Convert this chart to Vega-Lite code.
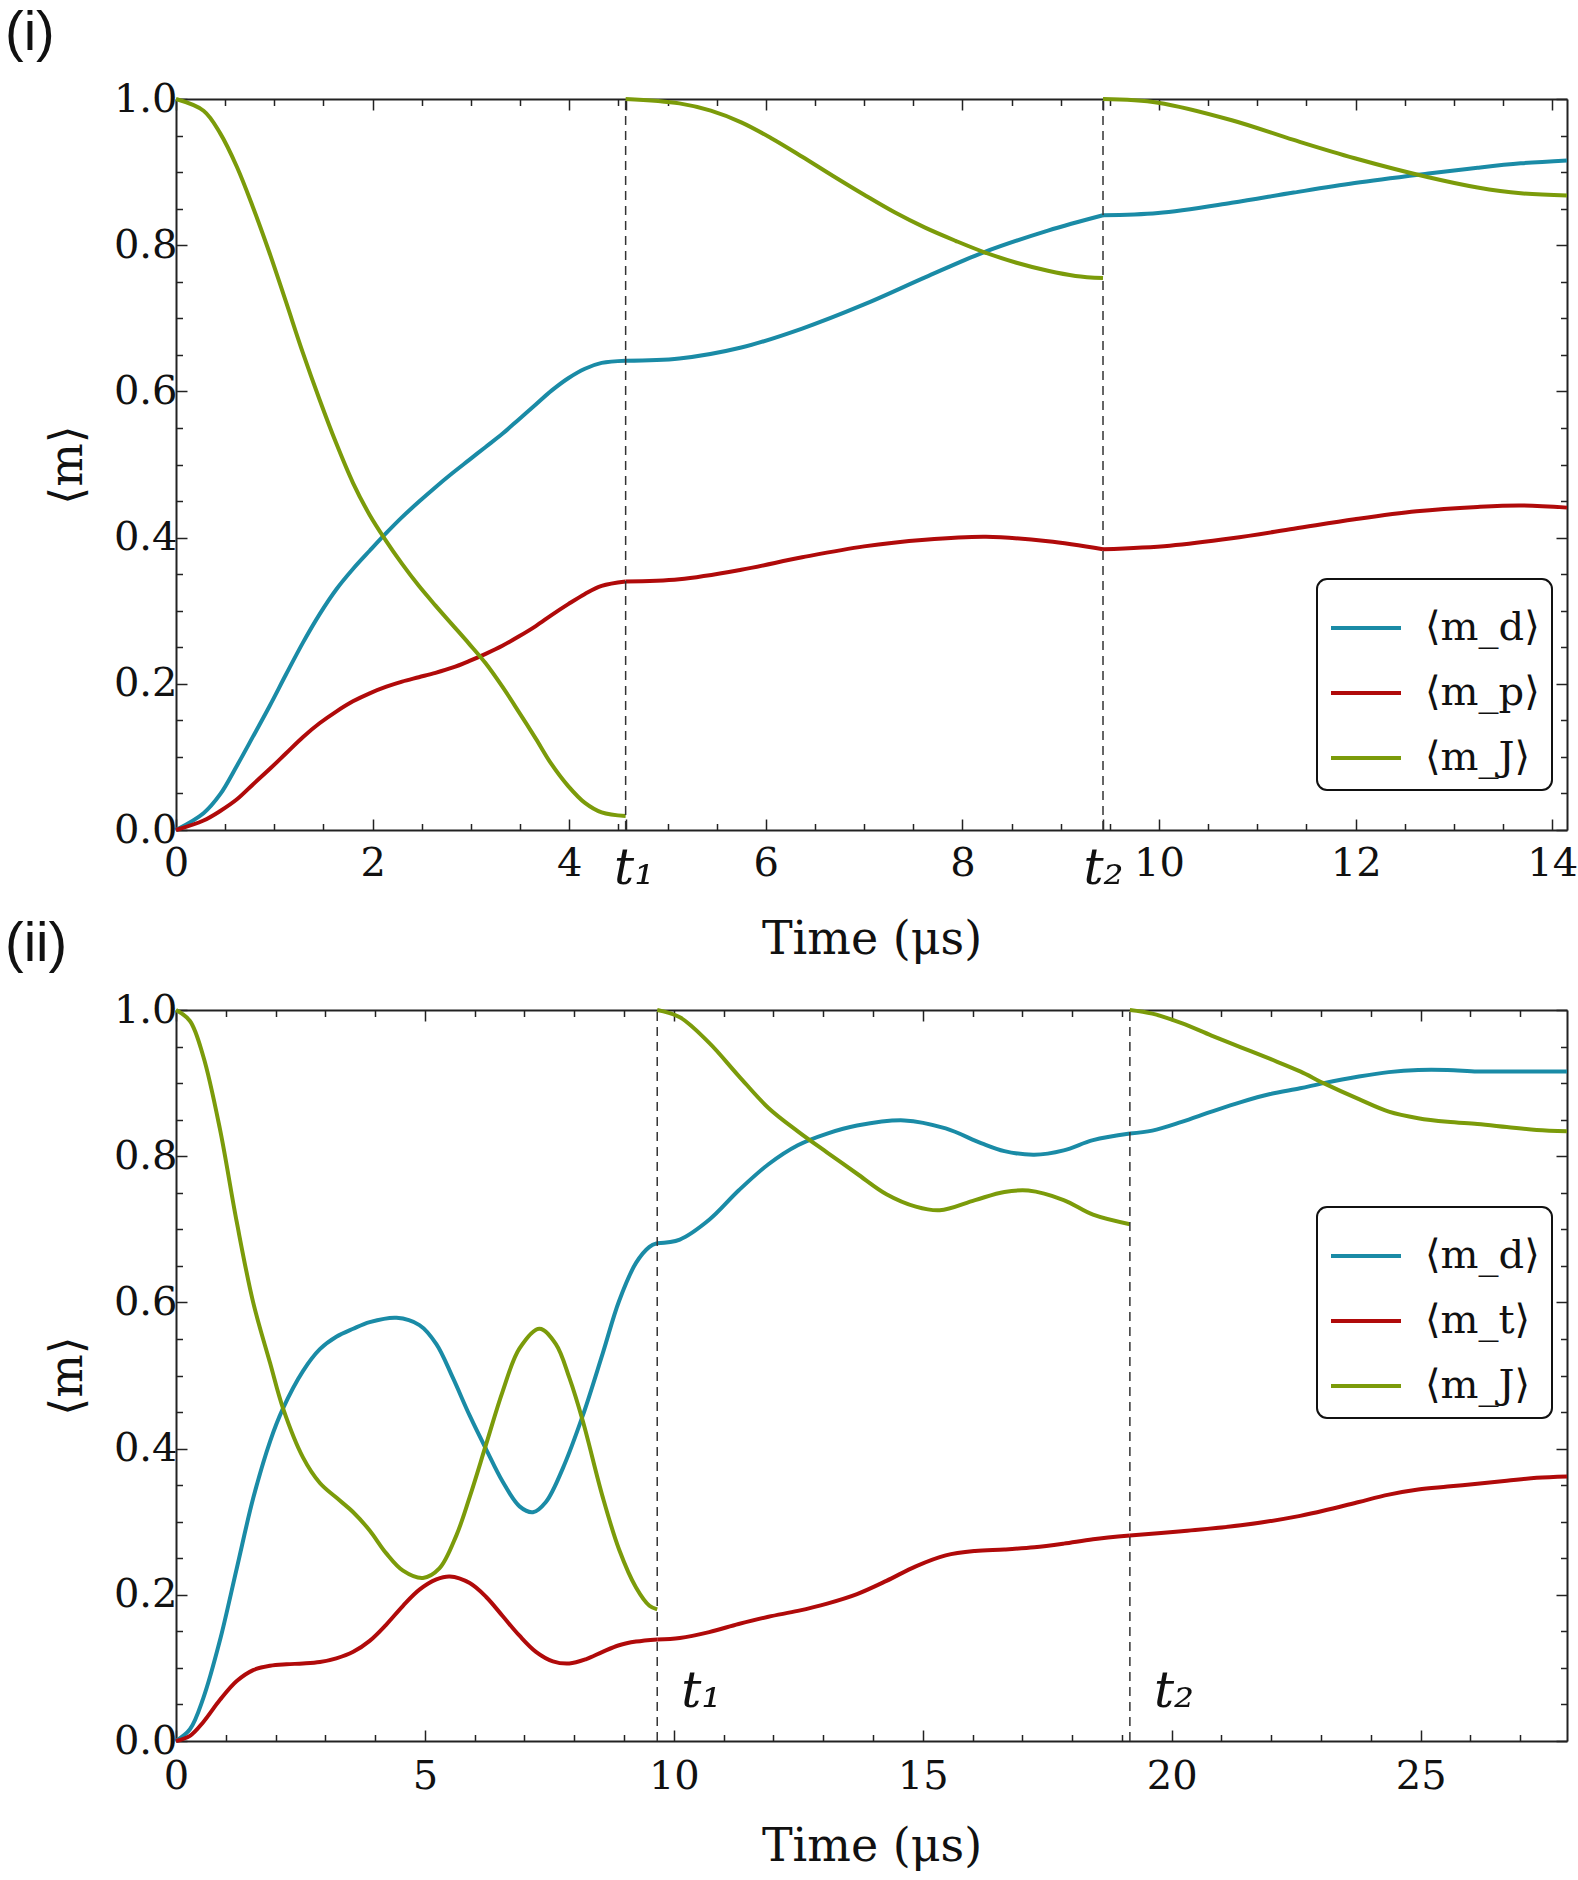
{
  "$schema": "https://vega.github.io/schema/vega-lite/v6.json",
  "padding": {"left": 5, "top": 5, "right": 0, "bottom": 12},
  "background": "white",
  "spacing": -46,
  "config": {
    "view": {"stroke": null},
    "font": "DejaVu Serif",
    "axis": {"grid": false, "domainColor": "#222", "domainWidth": 2, "tickColor": "#222", "tickWidth": 1.5,
      "labelFont": "DejaVu Serif", "labelFontSize": 40, "labelColor": "#111", "titleFont": "DejaVu Serif",
      "titleFontSize": 46, "titleFontWeight": "normal", "titleColor": "#111", "labelOverlap": false, "labelFlush": false, "labelBound": false},
    "title": {"font": "Liberation Sans", "fontSize": 56, "fontWeight": "normal", "anchor": "start", "frame": "group", "dx": -171, "offset": 17, "color": "#111"},
    "legend": {"title": null, "strokeColor": "#111", "strokeWidth": 2, "cornerRadius": 10, "fillColor": "white", "padding": 12,
      "symbolType": "stroke", "symbolSize": 4900, "symbolStrokeWidth": 4, "labelFont": "DejaVu Serif", "labelFontSize": 40, "labelColor": "#111", "labelOffset": 22, "rowPadding": 8}
  },
  "resolve": {"scale": {"color": "independent"}},
  "datasets": {
    "p1": [
      {"t":0,"m":0,"s":"⟨m_d⟩","g":1},{"t":0.28,"m":0.023,"s":"⟨m_d⟩","g":1},{"t":0.45,"m":0.049,"s":"⟨m_d⟩","g":1},{"t":0.62,"m":0.088,"s":"⟨m_d⟩","g":1},{"t":0.78,"m":0.127,"s":"⟨m_d⟩","g":1},{"t":0.95,"m":0.169,"s":"⟨m_d⟩","g":1},{"t":1.12,"m":0.213,"s":"⟨m_d⟩","g":1},{"t":1.29,"m":0.256,"s":"⟨m_d⟩","g":1},{"t":1.46,"m":0.295,"s":"⟨m_d⟩","g":1},{"t":1.63,"m":0.329,"s":"⟨m_d⟩","g":1},{"t":1.8,"m":0.357,"s":"⟨m_d⟩","g":1},{"t":1.97,"m":0.382,"s":"⟨m_d⟩","g":1},{"t":2.13,"m":0.405,"s":"⟨m_d⟩","g":1},{"t":2.3,"m":0.428,"s":"⟨m_d⟩","g":1},{"t":2.47,"m":0.449,"s":"⟨m_d⟩","g":1},{"t":2.64,"m":0.469,"s":"⟨m_d⟩","g":1},{"t":2.81,"m":0.488,"s":"⟨m_d⟩","g":1},{"t":2.98,"m":0.506,"s":"⟨m_d⟩","g":1},{"t":3.15,"m":0.524,"s":"⟨m_d⟩","g":1},{"t":3.32,"m":0.542,"s":"⟨m_d⟩","g":1},{"t":3.49,"m":0.562,"s":"⟨m_d⟩","g":1},{"t":3.66,"m":0.582,"s":"⟨m_d⟩","g":1},{"t":3.82,"m":0.601,"s":"⟨m_d⟩","g":1},{"t":3.99,"m":0.618,"s":"⟨m_d⟩","g":1},{"t":4.16,"m":0.631,"s":"⟨m_d⟩","g":1},{"t":4.33,"m":0.639,"s":"⟨m_d⟩","g":1},{"t":4.574,"m":0.642,"s":"⟨m_d⟩","g":1},
      {"t":4.574,"m":0.642,"s":"⟨m_d⟩","g":2},{"t":5.12,"m":0.645,"s":"⟨m_d⟩","g":2},{"t":5.75,"m":0.66,"s":"⟨m_d⟩","g":2},{"t":6.37,"m":0.686,"s":"⟨m_d⟩","g":2},{"t":7.0,"m":0.719,"s":"⟨m_d⟩","g":2},{"t":7.62,"m":0.756,"s":"⟨m_d⟩","g":2},{"t":8.21,"m":0.79,"s":"⟨m_d⟩","g":2},{"t":8.87,"m":0.82,"s":"⟨m_d⟩","g":2},{"t":9.43,"m":0.841,"s":"⟨m_d⟩","g":2},
      {"t":9.43,"m":0.841,"s":"⟨m_d⟩","g":3},{"t":9.99,"m":0.844,"s":"⟨m_d⟩","g":3},{"t":10.74,"m":0.858,"s":"⟨m_d⟩","g":3},{"t":11.37,"m":0.872,"s":"⟨m_d⟩","g":3},{"t":11.99,"m":0.885,"s":"⟨m_d⟩","g":3},{"t":12.74,"m":0.898,"s":"⟨m_d⟩","g":3},{"t":13.24,"m":0.906,"s":"⟨m_d⟩","g":3},{"t":13.68,"m":0.912,"s":"⟨m_d⟩","g":3},{"t":14.15,"m":0.916,"s":"⟨m_d⟩","g":3},
      {"t":0,"m":0,"s":"⟨m_p⟩","g":1},{"t":0.28,"m":0.013,"s":"⟨m_p⟩","g":1},{"t":0.45,"m":0.026,"s":"⟨m_p⟩","g":1},{"t":0.62,"m":0.042,"s":"⟨m_p⟩","g":1},{"t":0.78,"m":0.062,"s":"⟨m_p⟩","g":1},{"t":0.95,"m":0.083,"s":"⟨m_p⟩","g":1},{"t":1.12,"m":0.105,"s":"⟨m_p⟩","g":1},{"t":1.29,"m":0.127,"s":"⟨m_p⟩","g":1},{"t":1.46,"m":0.146,"s":"⟨m_p⟩","g":1},{"t":1.63,"m":0.162,"s":"⟨m_p⟩","g":1},{"t":1.8,"m":0.176,"s":"⟨m_p⟩","g":1},{"t":1.97,"m":0.187,"s":"⟨m_p⟩","g":1},{"t":2.14,"m":0.196,"s":"⟨m_p⟩","g":1},{"t":2.3,"m":0.203,"s":"⟨m_p⟩","g":1},{"t":2.47,"m":0.209,"s":"⟨m_p⟩","g":1},{"t":2.64,"m":0.215,"s":"⟨m_p⟩","g":1},{"t":2.81,"m":0.222,"s":"⟨m_p⟩","g":1},{"t":2.98,"m":0.231,"s":"⟨m_p⟩","g":1},{"t":3.15,"m":0.241,"s":"⟨m_p⟩","g":1},{"t":3.32,"m":0.252,"s":"⟨m_p⟩","g":1},{"t":3.49,"m":0.265,"s":"⟨m_p⟩","g":1},{"t":3.66,"m":0.279,"s":"⟨m_p⟩","g":1},{"t":3.82,"m":0.294,"s":"⟨m_p⟩","g":1},{"t":3.99,"m":0.309,"s":"⟨m_p⟩","g":1},{"t":4.16,"m":0.323,"s":"⟨m_p⟩","g":1},{"t":4.33,"m":0.334,"s":"⟨m_p⟩","g":1},{"t":4.574,"m":0.34,"s":"⟨m_p⟩","g":1},
      {"t":4.574,"m":0.34,"s":"⟨m_p⟩","g":2},{"t":5.12,"m":0.343,"s":"⟨m_p⟩","g":2},{"t":5.75,"m":0.356,"s":"⟨m_p⟩","g":2},{"t":6.37,"m":0.373,"s":"⟨m_p⟩","g":2},{"t":7.0,"m":0.388,"s":"⟨m_p⟩","g":2},{"t":7.62,"m":0.397,"s":"⟨m_p⟩","g":2},{"t":8.24,"m":0.401,"s":"⟨m_p⟩","g":2},{"t":8.87,"m":0.395,"s":"⟨m_p⟩","g":2},{"t":9.43,"m":0.384,"s":"⟨m_p⟩","g":2},
      {"t":9.43,"m":0.384,"s":"⟨m_p⟩","g":3},{"t":10.11,"m":0.389,"s":"⟨m_p⟩","g":3},{"t":10.74,"m":0.399,"s":"⟨m_p⟩","g":3},{"t":11.37,"m":0.412,"s":"⟨m_p⟩","g":3},{"t":11.99,"m":0.425,"s":"⟨m_p⟩","g":3},{"t":12.62,"m":0.436,"s":"⟨m_p⟩","g":3},{"t":13.24,"m":0.442,"s":"⟨m_p⟩","g":3},{"t":13.68,"m":0.444,"s":"⟨m_p⟩","g":3},{"t":14.15,"m":0.441,"s":"⟨m_p⟩","g":3},
      {"t":0,"m":1,"s":"⟨m_J⟩","g":1},{"t":0.28,"m":0.984,"s":"⟨m_J⟩","g":1},{"t":0.45,"m":0.953,"s":"⟨m_J⟩","g":1},{"t":0.62,"m":0.907,"s":"⟨m_J⟩","g":1},{"t":0.78,"m":0.853,"s":"⟨m_J⟩","g":1},{"t":0.95,"m":0.79,"s":"⟨m_J⟩","g":1},{"t":1.12,"m":0.722,"s":"⟨m_J⟩","g":1},{"t":1.29,"m":0.653,"s":"⟨m_J⟩","g":1},{"t":1.46,"m":0.589,"s":"⟨m_J⟩","g":1},{"t":1.63,"m":0.529,"s":"⟨m_J⟩","g":1},{"t":1.8,"m":0.475,"s":"⟨m_J⟩","g":1},{"t":1.97,"m":0.431,"s":"⟨m_J⟩","g":1},{"t":2.13,"m":0.397,"s":"⟨m_J⟩","g":1},{"t":2.3,"m":0.364,"s":"⟨m_J⟩","g":1},{"t":2.47,"m":0.334,"s":"⟨m_J⟩","g":1},{"t":2.64,"m":0.307,"s":"⟨m_J⟩","g":1},{"t":2.81,"m":0.281,"s":"⟨m_J⟩","g":1},{"t":2.98,"m":0.255,"s":"⟨m_J⟩","g":1},{"t":3.15,"m":0.228,"s":"⟨m_J⟩","g":1},{"t":3.32,"m":0.196,"s":"⟨m_J⟩","g":1},{"t":3.49,"m":0.161,"s":"⟨m_J⟩","g":1},{"t":3.66,"m":0.125,"s":"⟨m_J⟩","g":1},{"t":3.82,"m":0.09,"s":"⟨m_J⟩","g":1},{"t":3.99,"m":0.06,"s":"⟨m_J⟩","g":1},{"t":4.16,"m":0.037,"s":"⟨m_J⟩","g":1},{"t":4.33,"m":0.024,"s":"⟨m_J⟩","g":1},{"t":4.574,"m":0.019,"s":"⟨m_J⟩","g":1},
      {"t":4.574,"m":1,"s":"⟨m_J⟩","g":2},{"t":5.12,"m":0.994,"s":"⟨m_J⟩","g":2},{"t":5.44,"m":0.984,"s":"⟨m_J⟩","g":2},{"t":5.75,"m":0.968,"s":"⟨m_J⟩","g":2},{"t":6.06,"m":0.946,"s":"⟨m_J⟩","g":2},{"t":6.37,"m":0.921,"s":"⟨m_J⟩","g":2},{"t":6.68,"m":0.895,"s":"⟨m_J⟩","g":2},{"t":7.0,"m":0.869,"s":"⟨m_J⟩","g":2},{"t":7.31,"m":0.845,"s":"⟨m_J⟩","g":2},{"t":7.62,"m":0.824,"s":"⟨m_J⟩","g":2},{"t":7.93,"m":0.806,"s":"⟨m_J⟩","g":2},{"t":8.21,"m":0.791,"s":"⟨m_J⟩","g":2},{"t":8.55,"m":0.776,"s":"⟨m_J⟩","g":2},{"t":8.87,"m":0.765,"s":"⟨m_J⟩","g":2},{"t":9.15,"m":0.758,"s":"⟨m_J⟩","g":2},{"t":9.43,"m":0.755,"s":"⟨m_J⟩","g":2},
      {"t":9.43,"m":1,"s":"⟨m_J⟩","g":3},{"t":9.99,"m":0.995,"s":"⟨m_J⟩","g":3},{"t":10.74,"m":0.971,"s":"⟨m_J⟩","g":3},{"t":11.37,"m":0.944,"s":"⟨m_J⟩","g":3},{"t":11.99,"m":0.919,"s":"⟨m_J⟩","g":3},{"t":12.74,"m":0.893,"s":"⟨m_J⟩","g":3},{"t":13.24,"m":0.879,"s":"⟨m_J⟩","g":3},{"t":13.68,"m":0.871,"s":"⟨m_J⟩","g":3},{"t":14.15,"m":0.868,"s":"⟨m_J⟩","g":3}
    ],
    "p1t": [{"t": 4.574}, {"t": 9.43}],
    "p2": [
      {"t":0,"m":0,"s":"⟨m_d⟩","g":1},{"t":0.28,"m":0.016,"s":"⟨m_d⟩","g":1},{"t":0.55,"m":0.059,"s":"⟨m_d⟩","g":1},{"t":0.88,"m":0.137,"s":"⟨m_d⟩","g":1},{"t":1.22,"m":0.236,"s":"⟨m_d⟩","g":1},{"t":1.55,"m":0.332,"s":"⟨m_d⟩","g":1},{"t":1.89,"m":0.41,"s":"⟨m_d⟩","g":1},{"t":2.15,"m":0.455,"s":"⟨m_d⟩","g":1},{"t":2.55,"m":0.506,"s":"⟨m_d⟩","g":1},{"t":2.89,"m":0.536,"s":"⟨m_d⟩","g":1},{"t":3.22,"m":0.553,"s":"⟨m_d⟩","g":1},{"t":3.56,"m":0.564,"s":"⟨m_d⟩","g":1},{"t":3.89,"m":0.573,"s":"⟨m_d⟩","g":1},{"t":4.43,"m":0.579,"s":"⟨m_d⟩","g":1},{"t":4.89,"m":0.569,"s":"⟨m_d⟩","g":1},{"t":5.23,"m":0.543,"s":"⟨m_d⟩","g":1},{"t":5.56,"m":0.497,"s":"⟨m_d⟩","g":1},{"t":5.9,"m":0.445,"s":"⟨m_d⟩","g":1},{"t":6.23,"m":0.399,"s":"⟨m_d⟩","g":1},{"t":6.56,"m":0.355,"s":"⟨m_d⟩","g":1},{"t":6.9,"m":0.321,"s":"⟨m_d⟩","g":1},{"t":7.17,"m":0.313,"s":"⟨m_d⟩","g":1},{"t":7.43,"m":0.327,"s":"⟨m_d⟩","g":1},{"t":7.77,"m":0.373,"s":"⟨m_d⟩","g":1},{"t":8.17,"m":0.445,"s":"⟨m_d⟩","g":1},{"t":8.57,"m":0.53,"s":"⟨m_d⟩","g":1},{"t":8.9,"m":0.602,"s":"⟨m_d⟩","g":1},{"t":9.24,"m":0.654,"s":"⟨m_d⟩","g":1},{"t":9.51,"m":0.676,"s":"⟨m_d⟩","g":1},{"t":9.666,"m":0.681,"s":"⟨m_d⟩","g":1},
      {"t":9.666,"m":0.681,"s":"⟨m_d⟩","g":2},{"t":10.12,"m":0.686,"s":"⟨m_d⟩","g":2},{"t":10.71,"m":0.713,"s":"⟨m_d⟩","g":2},{"t":11.3,"m":0.753,"s":"⟨m_d⟩","g":2},{"t":11.9,"m":0.789,"s":"⟨m_d⟩","g":2},{"t":12.49,"m":0.815,"s":"⟨m_d⟩","g":2},{"t":13.08,"m":0.831,"s":"⟨m_d⟩","g":2},{"t":13.68,"m":0.842,"s":"⟨m_d⟩","g":2},{"t":14.63,"m":0.849,"s":"⟨m_d⟩","g":2},{"t":15.46,"m":0.838,"s":"⟨m_d⟩","g":2},{"t":16.17,"m":0.818,"s":"⟨m_d⟩","g":2},{"t":16.64,"m":0.807,"s":"⟨m_d⟩","g":2},{"t":17.24,"m":0.802,"s":"⟨m_d⟩","g":2},{"t":17.83,"m":0.808,"s":"⟨m_d⟩","g":2},{"t":18.42,"m":0.822,"s":"⟨m_d⟩","g":2},{"t":19.16,"m":0.831,"s":"⟨m_d⟩","g":2},
      {"t":19.16,"m":0.831,"s":"⟨m_d⟩","g":3},{"t":19.61,"m":0.835,"s":"⟨m_d⟩","g":3},{"t":20.2,"m":0.847,"s":"⟨m_d⟩","g":3},{"t":20.8,"m":0.861,"s":"⟨m_d⟩","g":3},{"t":21.39,"m":0.874,"s":"⟨m_d⟩","g":3},{"t":21.98,"m":0.885,"s":"⟨m_d⟩","g":3},{"t":22.58,"m":0.893,"s":"⟨m_d⟩","g":3},{"t":23.05,"m":0.9,"s":"⟨m_d⟩","g":3},{"t":23.76,"m":0.909,"s":"⟨m_d⟩","g":3},{"t":24.36,"m":0.915,"s":"⟨m_d⟩","g":3},{"t":24.95,"m":0.918,"s":"⟨m_d⟩","g":3},{"t":25.54,"m":0.918,"s":"⟨m_d⟩","g":3},{"t":26.14,"m":0.916,"s":"⟨m_d⟩","g":3},{"t":26.73,"m":0.916,"s":"⟨m_d⟩","g":3},{"t":27.33,"m":0.916,"s":"⟨m_d⟩","g":3},{"t":27.94,"m":0.916,"s":"⟨m_d⟩","g":3},
      {"t":0,"m":0,"s":"⟨m_t⟩","g":1},{"t":0.28,"m":0.007,"s":"⟨m_t⟩","g":1},{"t":0.55,"m":0.026,"s":"⟨m_t⟩","g":1},{"t":0.88,"m":0.056,"s":"⟨m_t⟩","g":1},{"t":1.22,"m":0.082,"s":"⟨m_t⟩","g":1},{"t":1.55,"m":0.097,"s":"⟨m_t⟩","g":1},{"t":1.89,"m":0.103,"s":"⟨m_t⟩","g":1},{"t":2.22,"m":0.105,"s":"⟨m_t⟩","g":1},{"t":2.55,"m":0.106,"s":"⟨m_t⟩","g":1},{"t":2.89,"m":0.108,"s":"⟨m_t⟩","g":1},{"t":3.22,"m":0.113,"s":"⟨m_t⟩","g":1},{"t":3.56,"m":0.122,"s":"⟨m_t⟩","g":1},{"t":3.89,"m":0.137,"s":"⟨m_t⟩","g":1},{"t":4.22,"m":0.159,"s":"⟨m_t⟩","g":1},{"t":4.56,"m":0.185,"s":"⟨m_t⟩","g":1},{"t":4.89,"m":0.207,"s":"⟨m_t⟩","g":1},{"t":5.23,"m":0.221,"s":"⟨m_t⟩","g":1},{"t":5.5,"m":0.225,"s":"⟨m_t⟩","g":1},{"t":5.9,"m":0.216,"s":"⟨m_t⟩","g":1},{"t":6.23,"m":0.197,"s":"⟨m_t⟩","g":1},{"t":6.56,"m":0.171,"s":"⟨m_t⟩","g":1},{"t":6.9,"m":0.144,"s":"⟨m_t⟩","g":1},{"t":7.23,"m":0.122,"s":"⟨m_t⟩","g":1},{"t":7.57,"m":0.109,"s":"⟨m_t⟩","g":1},{"t":7.9,"m":0.106,"s":"⟨m_t⟩","g":1},{"t":8.24,"m":0.112,"s":"⟨m_t⟩","g":1},{"t":8.57,"m":0.122,"s":"⟨m_t⟩","g":1},{"t":8.9,"m":0.131,"s":"⟨m_t⟩","g":1},{"t":9.24,"m":0.136,"s":"⟨m_t⟩","g":1},{"t":9.666,"m":0.139,"s":"⟨m_t⟩","g":1},
      {"t":9.666,"m":0.139,"s":"⟨m_t⟩","g":2},{"t":10.12,"m":0.141,"s":"⟨m_t⟩","g":2},{"t":10.71,"m":0.149,"s":"⟨m_t⟩","g":2},{"t":11.3,"m":0.16,"s":"⟨m_t⟩","g":2},{"t":11.9,"m":0.17,"s":"⟨m_t⟩","g":2},{"t":12.49,"m":0.178,"s":"⟨m_t⟩","g":2},{"t":13.08,"m":0.188,"s":"⟨m_t⟩","g":2},{"t":13.68,"m":0.201,"s":"⟨m_t⟩","g":2},{"t":14.27,"m":0.219,"s":"⟨m_t⟩","g":2},{"t":14.86,"m":0.239,"s":"⟨m_t⟩","g":2},{"t":15.46,"m":0.254,"s":"⟨m_t⟩","g":2},{"t":16.05,"m":0.26,"s":"⟨m_t⟩","g":2},{"t":16.64,"m":0.262,"s":"⟨m_t⟩","g":2},{"t":17.24,"m":0.265,"s":"⟨m_t⟩","g":2},{"t":17.83,"m":0.27,"s":"⟨m_t⟩","g":2},{"t":18.42,"m":0.276,"s":"⟨m_t⟩","g":2},{"t":19.16,"m":0.281,"s":"⟨m_t⟩","g":2},
      {"t":19.16,"m":0.281,"s":"⟨m_t⟩","g":3},{"t":20.2,"m":0.287,"s":"⟨m_t⟩","g":3},{"t":21.39,"m":0.295,"s":"⟨m_t⟩","g":3},{"t":22.58,"m":0.308,"s":"⟨m_t⟩","g":3},{"t":23.17,"m":0.317,"s":"⟨m_t⟩","g":3},{"t":23.76,"m":0.327,"s":"⟨m_t⟩","g":3},{"t":24.36,"m":0.337,"s":"⟨m_t⟩","g":3},{"t":24.95,"m":0.344,"s":"⟨m_t⟩","g":3},{"t":25.54,"m":0.348,"s":"⟨m_t⟩","g":3},{"t":26.14,"m":0.352,"s":"⟨m_t⟩","g":3},{"t":26.73,"m":0.356,"s":"⟨m_t⟩","g":3},{"t":27.33,"m":0.36,"s":"⟨m_t⟩","g":3},{"t":27.94,"m":0.362,"s":"⟨m_t⟩","g":3},
      {"t":0,"m":1,"s":"⟨m_J⟩","g":1},{"t":0.28,"m":0.985,"s":"⟨m_J⟩","g":1},{"t":0.55,"m":0.936,"s":"⟨m_J⟩","g":1},{"t":0.88,"m":0.838,"s":"⟨m_J⟩","g":1},{"t":1.22,"m":0.71,"s":"⟨m_J⟩","g":1},{"t":1.55,"m":0.6,"s":"⟨m_J⟩","g":1},{"t":1.89,"m":0.517,"s":"⟨m_J⟩","g":1},{"t":2.15,"m":0.455,"s":"⟨m_J⟩","g":1},{"t":2.55,"m":0.388,"s":"⟨m_J⟩","g":1},{"t":2.89,"m":0.353,"s":"⟨m_J⟩","g":1},{"t":3.22,"m":0.333,"s":"⟨m_J⟩","g":1},{"t":3.56,"m":0.313,"s":"⟨m_J⟩","g":1},{"t":3.89,"m":0.288,"s":"⟨m_J⟩","g":1},{"t":4.22,"m":0.257,"s":"⟨m_J⟩","g":1},{"t":4.56,"m":0.233,"s":"⟨m_J⟩","g":1},{"t":4.96,"m":0.223,"s":"⟨m_J⟩","g":1},{"t":5.29,"m":0.236,"s":"⟨m_J⟩","g":1},{"t":5.63,"m":0.281,"s":"⟨m_J⟩","g":1},{"t":5.9,"m":0.334,"s":"⟨m_J⟩","g":1},{"t":6.23,"m":0.406,"s":"⟨m_J⟩","g":1},{"t":6.56,"m":0.478,"s":"⟨m_J⟩","g":1},{"t":6.9,"m":0.537,"s":"⟨m_J⟩","g":1},{"t":7.3,"m":0.564,"s":"⟨m_J⟩","g":1},{"t":7.63,"m":0.543,"s":"⟨m_J⟩","g":1},{"t":7.9,"m":0.497,"s":"⟨m_J⟩","g":1},{"t":8.17,"m":0.438,"s":"⟨m_J⟩","g":1},{"t":8.57,"m":0.334,"s":"⟨m_J⟩","g":1},{"t":8.9,"m":0.262,"s":"⟨m_J⟩","g":1},{"t":9.24,"m":0.21,"s":"⟨m_J⟩","g":1},{"t":9.51,"m":0.185,"s":"⟨m_J⟩","g":1},{"t":9.666,"m":0.18,"s":"⟨m_J⟩","g":1},
      {"t":9.666,"m":1,"s":"⟨m_J⟩","g":2},{"t":10.12,"m":0.99,"s":"⟨m_J⟩","g":2},{"t":10.71,"m":0.955,"s":"⟨m_J⟩","g":2},{"t":11.3,"m":0.91,"s":"⟨m_J⟩","g":2},{"t":11.9,"m":0.866,"s":"⟨m_J⟩","g":2},{"t":12.49,"m":0.834,"s":"⟨m_J⟩","g":2},{"t":13.08,"m":0.805,"s":"⟨m_J⟩","g":2},{"t":13.68,"m":0.776,"s":"⟨m_J⟩","g":2},{"t":14.27,"m":0.748,"s":"⟨m_J⟩","g":2},{"t":14.86,"m":0.731,"s":"⟨m_J⟩","g":2},{"t":15.34,"m":0.726,"s":"⟨m_J⟩","g":2},{"t":16.05,"m":0.74,"s":"⟨m_J⟩","g":2},{"t":16.64,"m":0.751,"s":"⟨m_J⟩","g":2},{"t":17.12,"m":0.753,"s":"⟨m_J⟩","g":2},{"t":17.83,"m":0.74,"s":"⟨m_J⟩","g":2},{"t":18.42,"m":0.72,"s":"⟨m_J⟩","g":2},{"t":19.16,"m":0.707,"s":"⟨m_J⟩","g":2},
      {"t":19.16,"m":1,"s":"⟨m_J⟩","g":3},{"t":19.61,"m":0.995,"s":"⟨m_J⟩","g":3},{"t":20.2,"m":0.982,"s":"⟨m_J⟩","g":3},{"t":20.8,"m":0.965,"s":"⟨m_J⟩","g":3},{"t":21.39,"m":0.949,"s":"⟨m_J⟩","g":3},{"t":21.98,"m":0.933,"s":"⟨m_J⟩","g":3},{"t":22.58,"m":0.916,"s":"⟨m_J⟩","g":3},{"t":23.05,"m":0.9,"s":"⟨m_J⟩","g":3},{"t":23.76,"m":0.878,"s":"⟨m_J⟩","g":3},{"t":24.36,"m":0.861,"s":"⟨m_J⟩","g":3},{"t":24.95,"m":0.852,"s":"⟨m_J⟩","g":3},{"t":25.54,"m":0.847,"s":"⟨m_J⟩","g":3},{"t":26.14,"m":0.844,"s":"⟨m_J⟩","g":3},{"t":26.73,"m":0.84,"s":"⟨m_J⟩","g":3},{"t":27.33,"m":0.836,"s":"⟨m_J⟩","g":3},{"t":27.94,"m":0.834,"s":"⟨m_J⟩","g":3}
    ],
    "p2t": [{"t": 9.666, "lab": "t₁"}, {"t": 19.16, "lab": "t₂"}]
  },
  "vconcat": [
    {
      "title": {"text": "(i)"},
      "width": 1391, "height": 731,
      "resolve": {"axis": {"x": "independent", "y": "independent"}},
      "layer": [
        {
          "data": {"name": "p1"},
          "mark": {"type": "line", "strokeWidth": 4, "interpolate": "catmull-rom"},
          "encoding": {
            "x": {"field": "t", "type": "quantitative", "scale": {"domain": [0, 14.15], "nice": false, "zero": false},
              "axis": {"orient": "bottom", "values": [0,0.5,1,1.5,2,2.5,3,3.5,4,4.5,4.574,5,5.5,6,6.5,7,7.5,8,8.5,9,9.43,9.5,10,10.5,11,11.5,12,12.5,13,13.5,14],
                "tickSize": {"condition": {"test": "datum.value % 2 === 0 || datum.value === 4.574 || datum.value === 9.43", "value": -11}, "value": -6.5},
                "labelExpr": "datum.value === 4.574 ? 't₁' : datum.value === 9.43 ? 't₂' : (datum.value % 2 === 0 ? format(datum.value, 'd') : '')",
                "labelFontStyle": {"condition": {"test": "datum.value === 4.574 || datum.value === 9.43", "value": "italic"}, "value": "normal"},
                "labelFontSize": {"condition": {"test": "datum.value === 4.574 || datum.value === 9.43", "value": 50}, "value": 40},
                "labelOffset": {"condition": {"test": "datum.value === 4.574", "value": 8}, "value": 0},
                "labelPadding": 24, "title": "Time (μs)", "titlePadding": 24}},
            "y": {"field": "m", "type": "quantitative", "scale": {"domain": [0, 1], "nice": false},
              "axis": {"orient": "left", "values": [0,0.05,0.1,0.15,0.2,0.25,0.3,0.35,0.4,0.45,0.5,0.55,0.6,0.65,0.7,0.75,0.8,0.85,0.9,0.95,1],
                "tickSize": {"condition": {"test": "abs(datum.value*5 - round(datum.value*5)) < 0.000001", "value": -11}, "value": -6.5},
                "labelExpr": "abs(datum.value*5 - round(datum.value*5)) < 0.000001 ? format(datum.value, '.1f') : ''",
                "labelPadding": 10, "title": "⟨m⟩", "titlePadding": 22}},
            "color": {"field": "s", "type": "nominal", "sort": null,
              "scale": {"domain": ["⟨m_d⟩", "⟨m_p⟩", "⟨m_J⟩"], "range": ["#1a8ba6", "#b00a0a", "#7b9b0a"]},
              "legend": {"orient": "none", "legendX": 1141, "legendY": 480}},
            "detail": {"field": "g", "type": "nominal"}
          }
        },
        {
          "data": {"name": "p1t"},
          "mark": {"type": "rule", "strokeDash": [9, 6], "strokeWidth": 1.5, "color": "#333"},
          "encoding": {
            "x": {"field": "t", "type": "quantitative",
              "axis": {"orient": "top", "values": [0,0.5,1,1.5,2,2.5,3,3.5,4,4.5,4.574,5,5.5,6,6.5,7,7.5,8,8.5,9,9.43,9.5,10,10.5,11,11.5,12,12.5,13,13.5,14],
                "tickSize": {"condition": {"test": "datum.value % 2 === 0 || datum.value === 4.574 || datum.value === 9.43", "value": -11}, "value": -6.5},
                "labels": false, "title": null}},
            "y": {"datum": 0, "type": "quantitative",
              "axis": {"orient": "right", "values": [0,0.05,0.1,0.15,0.2,0.25,0.3,0.35,0.4,0.45,0.5,0.55,0.6,0.65,0.7,0.75,0.8,0.85,0.9,0.95,1],
                "tickSize": {"condition": {"test": "abs(datum.value*5 - round(datum.value*5)) < 0.000001", "value": -11}, "value": -6.5},
                "labels": false, "title": null}},
            "y2": {"datum": 1}
          }
        }
      ]
    },
    {
      "title": {"text": "(ii)"},
      "width": 1391, "height": 731,
      "resolve": {"axis": {"x": "independent", "y": "independent"}},
      "layer": [
        {
          "data": {"name": "p2"},
          "mark": {"type": "line", "strokeWidth": 4, "interpolate": "catmull-rom"},
          "encoding": {
            "x": {"field": "t", "type": "quantitative", "scale": {"domain": [0, 27.94], "nice": false, "zero": false},
              "axis": {"orient": "bottom", "values": [0,1,2,3,4,5,6,7,8,9,10,11,12,13,14,15,16,17,18,19,20,21,22,23,24,25,26,27],
                "tickSize": {"condition": {"test": "datum.value % 5 === 0", "value": -11}, "value": -6.5},
                "labelExpr": "datum.value % 5 === 0 ? format(datum.value, 'd') : ''",
                "labelPadding": 26, "title": "Time (μs)", "titlePadding": 24}},
            "y": {"field": "m", "type": "quantitative", "scale": {"domain": [0, 1], "nice": false},
              "axis": {"orient": "left", "values": [0,0.05,0.1,0.15,0.2,0.25,0.3,0.35,0.4,0.45,0.5,0.55,0.6,0.65,0.7,0.75,0.8,0.85,0.9,0.95,1],
                "tickSize": {"condition": {"test": "abs(datum.value*5 - round(datum.value*5)) < 0.000001", "value": -11}, "value": -6.5},
                "labelExpr": "abs(datum.value*5 - round(datum.value*5)) < 0.000001 ? format(datum.value, '.1f') : ''",
                "labelPadding": 10, "title": "⟨m⟩", "titlePadding": 22}},
            "color": {"field": "s", "type": "nominal", "sort": null,
              "scale": {"domain": ["⟨m_d⟩", "⟨m_t⟩", "⟨m_J⟩"], "range": ["#1a8ba6", "#b00a0a", "#7b9b0a"]},
              "legend": {"orient": "none", "legendX": 1141, "legendY": 197}},
            "detail": {"field": "g", "type": "nominal"}
          }
        },
        {
          "data": {"name": "p2t"},
          "mark": {"type": "rule", "strokeDash": [9, 6], "strokeWidth": 1.5, "color": "#333"},
          "encoding": {
            "x": {"field": "t", "type": "quantitative",
              "axis": {"orient": "top", "values": [0,1,2,3,4,5,6,7,8,9,10,11,12,13,14,15,16,17,18,19,20,21,22,23,24,25,26,27],
                "tickSize": {"condition": {"test": "datum.value % 5 === 0", "value": -11}, "value": -6.5},
                "labels": false, "title": null}},
            "y": {"datum": 0, "type": "quantitative",
              "axis": {"orient": "right", "values": [0,0.05,0.1,0.15,0.2,0.25,0.3,0.35,0.4,0.45,0.5,0.55,0.6,0.65,0.7,0.75,0.8,0.85,0.9,0.95,1],
                "tickSize": {"condition": {"test": "abs(datum.value*5 - round(datum.value*5)) < 0.000001", "value": -11}, "value": -6.5},
                "labels": false, "title": null}},
            "y2": {"datum": 1}
          }
        },
        {
          "data": {"name": "p2t"},
          "mark": {"type": "text", "font": "DejaVu Serif", "fontStyle": "italic", "fontSize": 50, "align": "left", "baseline": "alphabetic", "dx": 24, "color": "#111"},
          "encoding": {
            "x": {"field": "t", "type": "quantitative", "axis": null},
            "y": {"datum": 0.046, "type": "quantitative", "axis": null},
            "text": {"field": "lab"}
          }
        }
      ]
    }
  ]
}
